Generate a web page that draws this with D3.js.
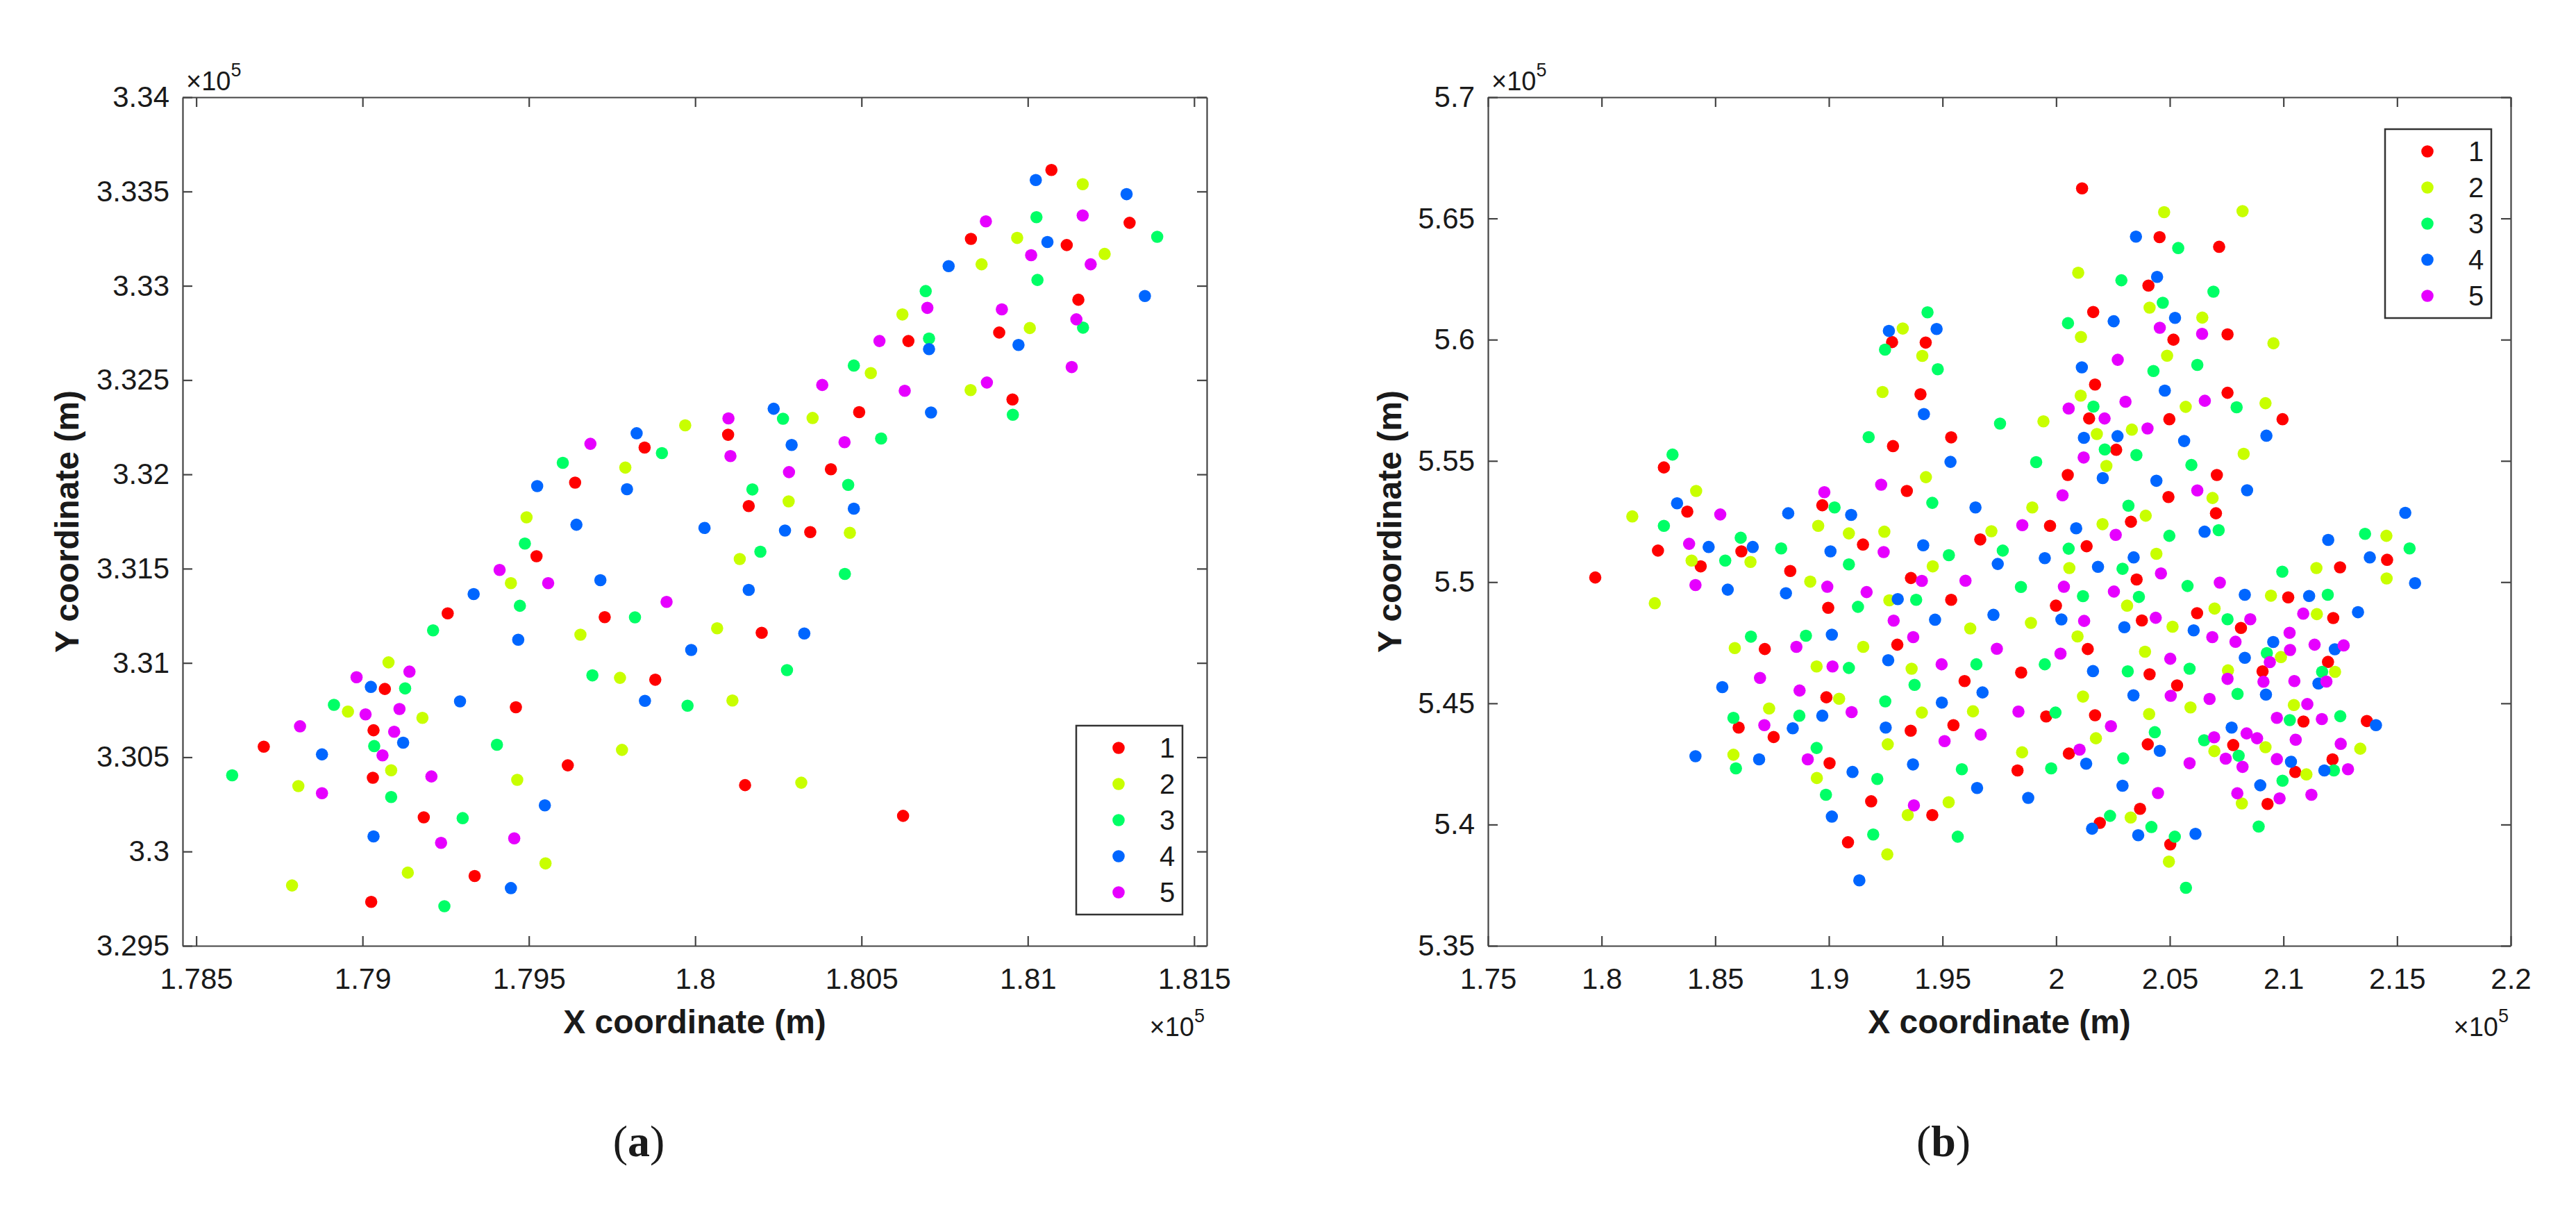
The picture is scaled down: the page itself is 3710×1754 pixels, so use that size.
<!DOCTYPE html>
<html>
<head>
<meta charset="utf-8">
<script src="https://cdn.jsdelivr.net/npm/d3@7"></script>
<style>
body { margin: 0; background: #fff; }
svg text { font-family: "Liberation Sans", Arial, sans-serif; fill: #1a1a1a; }
</style>
</head>
<body>
<svg id="chart" width="3710" height="1754"></svg>
<script>
// values are in units of 1e5 m, as on the axes
var labels = ["1", "2", "3", "4", "5"]
var colors = ["#ff0000", "#c8ff00", "#00ff66", "#0066ff", "#e600ff"]

// ---- panel (a)
var aXTicks = [1.785, 1.79, 1.795, 1.8, 1.805, 1.81, 1.815]
var aYTicks = [3.295, 3.3, 3.305, 3.31, 3.315, 3.32, 3.325, 3.33, 3.335, 3.34]

var a1 = [[1.79848,3.32142],[1.79639,3.31956],[1.79523,3.31566],[1.79256,3.31263],[1.79728,3.31243],[1.7988,3.30911],[1.79067,3.30862],[1.79461,3.30765],[1.79033,3.30643],[1.78703,3.30556],[1.79617,3.30457],[1.79031,3.30391],[1.79184,3.30181],[1.79337,3.2987],[1.79026,3.29733],
  [1.81071,3.33614],[1.81306,3.33334],[1.80829,3.33249],[1.81117,3.33216],[1.81152,3.32926],[1.80914,3.32752],[1.80641,3.32707],[1.80954,3.32397],[1.80493,3.3233],[1.80099,3.3221],[1.80408,3.32027],[1.80161,3.31832],[1.80346,3.31694],
  [1.802,3.3116],[1.8015,3.30352],[1.80625,3.30189]]
var a2 = [[1.7997,3.3226],[1.7979,3.32036],[1.79493,3.31772],[1.79446,3.31423],[1.79655,3.3115],[1.79078,3.31003],[1.79774,3.30921],[1.78956,3.30742],[1.7918,3.30709],[1.7978,3.30539],[1.79086,3.30431],[1.79465,3.3038],[1.78807,3.30347],[1.7955,3.29937],[1.79136,3.29888],[1.78788,3.2982],
  [1.81165,3.33539],[1.80968,3.33254],[1.81231,3.33169],[1.80861,3.33114],[1.80623,3.32848],[1.81006,3.32776],[1.80528,3.32537],[1.80828,3.32447],[1.80353,3.32299],[1.80281,3.31857],[1.80465,3.3169],
  [1.80134,3.31551],[1.80066,3.31184],[1.80112,3.30801],[1.80319,3.30365]]
var a3 = [[1.799,3.32113],[1.79602,3.32061],[1.79488,3.31633],[1.79473,3.31303],[1.79819,3.31242],[1.79212,3.31173],[1.79691,3.30934],[1.79128,3.30865],[1.79977,3.30773],[1.78914,3.30778],[1.79035,3.30559],[1.79404,3.30566],[1.78608,3.30404],[1.79086,3.30289],[1.79301,3.30177],[1.79246,3.2971],
  [1.81026,3.33364],[1.81389,3.3326],[1.81029,3.33031],[1.80693,3.32972],[1.81166,3.32778],[1.80703,3.3272],[1.80477,3.32577],[1.80955,3.32316],[1.80264,3.32295],[1.80559,3.3219],[1.8046,3.31944],[1.80172,3.3192],[1.80196,3.3159],
  [1.8045,3.31472],[1.80276,3.30962]]
var a4 = [[1.79824,3.32218],[1.79525,3.31938],[1.79795,3.31921],[1.79643,3.31733],[1.79715,3.31439],[1.79334,3.31365],[1.79468,3.31123],[1.79988,3.31069],[1.79025,3.30873],[1.79293,3.30796],[1.79849,3.30799],[1.79122,3.30577],[1.78878,3.30515],[1.79548,3.30245],[1.79033,3.3008],[1.79446,3.29806],
  [1.81024,3.33561],[1.81297,3.33486],[1.81059,3.33232],[1.80762,3.33104],[1.81352,3.32946],[1.80703,3.32664],[1.80972,3.32686],[1.80236,3.32348],[1.80709,3.32328],[1.8029,3.32156],[1.80477,3.31818],[1.80028,3.31716],[1.8027,3.31702],
  [1.80161,3.31387],[1.80328,3.31156]]
var a5 = [[1.79685,3.32162],[1.79412,3.31493],[1.79558,3.31423],[1.79914,3.31324],[1.79141,3.30954],[1.78982,3.30924],[1.79009,3.30727],[1.79111,3.30756],[1.78812,3.30664],[1.79095,3.30635],[1.7906,3.3051],[1.79207,3.30398],[1.78878,3.30309],[1.79236,3.30046],[1.79456,3.3007],
  [1.80874,3.33342],[1.81165,3.33373],[1.8101,3.33162],[1.81189,3.33114],[1.80698,3.32883],[1.80922,3.32875],[1.81146,3.32822],[1.80554,3.32707],[1.81132,3.32569],[1.80382,3.32474],[1.8063,3.32443],[1.80877,3.32487],[1.801,3.32297],[1.80106,3.32097],[1.80449,3.32171],[1.80282,3.32012]]

// ---- panel (b)
var bXTicks = [1.75, 1.8, 1.85, 1.9, 1.95, 2, 2.05, 2.1, 2.15, 2.2]
var bYTicks = [5.35, 5.4, 5.45, 5.5, 5.55, 5.6, 5.65, 5.7]

var b1 = [[1.8274,5.5473],[1.8377,5.5291],[1.8971,5.5317],
  [2.0114,5.6624],[2.0455,5.6423],[2.0406,5.6223],[2.0163,5.6114],[2.0516,5.6],[2.0171,5.5815],[2.0145,5.5675],[2.0498,5.5672],[2.0264,5.5546],[2.0051,5.5442],[2.0494,5.5351],[1.9278,5.599],[1.9426,5.5988],[1.9403,5.5775],[1.9282,5.5561],[1.9538,5.5597],[1.9343,5.5376],
  [2.0717,5.6383],[2.0754,5.6022],[2.0754,5.5781],[2.0996,5.5672],[2.0707,5.5442],[2.0703,5.5284],
  [1.8248,5.513],[1.8615,5.5127],[1.8436,5.5065],[1.883,5.5046],[1.7972,5.5019],[1.8997,5.4894],[1.8718,5.4724],[1.8989,5.4525],[1.8603,5.44],[1.8757,5.4361],[1.9003,5.4253],
  [1.915,5.5155],[1.9666,5.5176],[1.9973,5.5232],[2.0329,5.5249],[2.0134,5.5148],[2.0354,5.5011],[1.9361,5.5017],[1.9538,5.4927],[1.9999,5.4903],[2.0377,5.4842],[1.9301,5.4742],[1.9846,5.4627],[2.0139,5.4724],[2.0411,5.462],[1.9597,5.4592],[2.0532,5.4574],[1.9956,5.4446],[2.0171,5.4451],[1.9548,5.441],[1.936,5.4387],[2.0403,5.4331],[2.0056,5.4293],[1.983,5.4223],[1.9186,5.4096],[2.0369,5.4065],[1.9455,5.4039],[2.0192,5.4007],[1.9084,5.3927],[2.0502,5.3918],
  [2.1456,5.5092],[2.1249,5.5061],[2.1021,5.4937],[2.062,5.4872],[2.0813,5.4811],[2.1219,5.4852],[2.1196,5.4671],[2.0908,5.4632],[2.1088,5.4425],[2.1367,5.4427],[2.0779,5.4328],[2.1216,5.4269],[2.1052,5.4217],[2.093,5.4085]]
var b2 = [[1.8416,5.5376],[1.8135,5.5271],
  [2.0475,5.6526],[2.0097,5.6276],[2.0411,5.6132],[2.0109,5.6011],[2.0488,5.5934],[2.0108,5.5769],[2.0179,5.5611],[2.0333,5.5629],[2.0221,5.5479],[2.0394,5.5274],[1.9895,5.5308],[1.9944,5.5663],[1.9325,5.6046],[1.9411,5.5933],[1.9236,5.5784],[1.9427,5.5433],
  [2.082,5.653],[2.0643,5.6091],[2.0956,5.5985],[2.057,5.5723],[2.0921,5.5738],[2.0825,5.5529],[2.0688,5.5347],
  [1.8953,5.5232],[1.8396,5.5089],[1.8655,5.5083],[1.8918,5.5002],[1.8234,5.4913],[1.8586,5.4728],[1.8946,5.4652],[1.8737,5.4479],[1.858,5.4288],[1.8947,5.4192],
  [1.9088,5.5201],[1.9244,5.5208],[1.9457,5.5065],[1.9715,5.521],[2.0204,5.5239],[2.0058,5.5058],[2.0441,5.5117],[1.9266,5.4925],[1.9622,5.4809],[1.9889,5.4832],[2.0312,5.4903],[2.0512,5.4816],[1.9151,5.4733],[1.9364,5.4643],[2.0094,5.4776],[2.0391,5.4713],[2.0118,5.4528],[1.9045,5.4519],[1.9409,5.4462],[1.9634,5.4467],[2.0409,5.4456],[1.9259,5.4331],[2.0175,5.4356],[1.985,5.4298],[1.9527,5.4092],[1.9347,5.4039],[2.0328,5.4029],[1.9257,5.3877],[2.0496,5.3847],
  [2.1453,5.5191],[2.1145,5.5058],[2.1454,5.5015],[2.0945,5.4944],[2.0697,5.4891],[2.1147,5.4868],[2.0989,5.4691],[2.0756,5.4636],[2.1227,5.463],[2.0591,5.4483],[2.1046,5.4493],[2.0696,5.4303],[2.0921,5.4319],[2.1338,5.4313],[2.1101,5.4207],[2.0817,5.4087]]
var b3 = [[1.8312,5.5526],
  [2.0537,5.6378],[2.0287,5.6245],[2.0469,5.6152],[2.0052,5.6068],[2.0428,5.5871],[2.0164,5.5724],[2.0214,5.5547],[2.0353,5.5524],[2.0318,5.5315],[1.9912,5.5495],[1.9753,5.5654],[1.9434,5.6113],[1.9247,5.5959],[1.9479,5.5878],[1.9175,5.5598],[1.9455,5.5327],[1.9025,5.5308],
  [2.0692,5.6198],[2.0621,5.5896],[2.0794,5.5721],[2.0595,5.5483],
  [1.8274,5.5232],[1.8612,5.5183],[1.879,5.5139],[1.8544,5.5089],[1.8657,5.4775],[1.8899,5.4779],[1.858,5.444],[1.887,5.4449],[1.8946,5.4316],[1.8591,5.4232],[1.8987,5.4123],
  [2.0498,5.5191],[1.9088,5.5073],[1.9528,5.5111],[1.9765,5.513],[2.0055,5.5138],[2.0292,5.5055],[1.9128,5.4898],[1.9384,5.4927],[1.9845,5.498],[2.0118,5.4942],[2.0364,5.4939],[1.9088,5.4646],[1.9649,5.4661],[1.995,5.4661],[2.0315,5.4632],[1.9377,5.4576],[1.9248,5.4508],[1.9997,5.4462],[2.0434,5.4381],[2.0295,5.4273],[1.9585,5.4228],[1.9978,5.4232],[1.9213,5.4188],[2.0237,5.4036],[2.0419,5.399],[1.9195,5.3959],[1.9567,5.395],[2.0522,5.395],
  [2.0715,5.5214],[2.1359,5.5199],[2.1555,5.5139],[2.0995,5.5043],[2.0578,5.4984],[2.1195,5.4948],[2.0754,5.4847],[2.0927,5.4707],[2.0587,5.4643],[2.117,5.463],[2.0798,5.4539],[2.1028,5.4431],[2.125,5.4447],[2.0651,5.4348],[2.0803,5.4284],[2.1222,5.4223],[2.0996,5.4181],[2.0891,5.3992],[2.0571,5.3739]]
var b4 = [[1.8332,5.5325],[1.8821,5.5284],
  [2.0351,5.6425],[2.0444,5.6259],[2.0253,5.6076],[2.0523,5.609],[2.0113,5.5886],[2.0478,5.579],[2.0122,5.5595],[2.027,5.5602],[2.0205,5.5429],[2.0441,5.5418],[1.9264,5.6036],[1.9474,5.6044],[1.9418,5.5693],[1.9535,5.5496],[1.9645,5.5308],[1.9098,5.5277],
  [2.0563,5.5582],[2.0925,5.5604],[2.084,5.5379],[2.1536,5.5286],
  [1.8471,5.5145],[1.8665,5.5145],[1.9007,5.5127],[1.8555,5.4969],[1.8811,5.4954],[1.9013,5.4783],[1.8531,5.4567],[1.8971,5.4449],[1.8841,5.4397],[1.8413,5.4282],[1.8693,5.4269],[1.9013,5.4033],
  [1.9415,5.5152],[2.0088,5.5222],[1.9743,5.5075],[1.995,5.5099],[2.0184,5.5063],[2.0341,5.5102],[1.9303,5.493],[1.9467,5.4845],[1.9724,5.4865],[2.0023,5.4846],[2.03,5.4814],[1.9261,5.4678],[2.0162,5.4633],[1.9676,5.4545],[2.034,5.4533],[1.9497,5.4503],[1.925,5.44],[2.0456,5.4304],[1.9104,5.4217],[1.937,5.4248],[2.0132,5.4251],[1.9652,5.4151],[2.0292,5.416],[1.9877,5.411],[2.0158,5.3983],[2.0361,5.3956],[1.9134,5.377],
  [2.0653,5.5208],[2.1197,5.5174],[2.138,5.5102],[2.1579,5.4996],[2.083,5.4948],[2.1113,5.4943],[2.1328,5.4876],[2.0605,5.4801],[2.0955,5.4753],[2.1226,5.4723],[2.083,5.4688],[2.1154,5.4582],[2.0923,5.4536],[2.1407,5.441],[2.0772,5.44],[2.1033,5.4259],[2.118,5.4223],[2.0898,5.4162],[2.0613,5.3962]]
var b5 = [[1.898,5.5371],[1.8522,5.5279],
  [2.0456,5.6049],[2.0271,5.5917],[2.0305,5.5744],[2.0055,5.5716],[2.0213,5.5675],[2.0402,5.5634],[2.0121,5.5514],[2.0028,5.5358],[1.923,5.5402],
  [2.0642,5.6024],[2.0654,5.5748],[2.0621,5.5378],
  [1.8385,5.5158],[1.8413,5.4988],[1.8993,5.4981],[1.8857,5.4733],[1.9016,5.4652],[1.8697,5.4605],[1.8871,5.4553],[1.8716,5.441],[1.8907,5.4269],
  [1.9241,5.5124],[1.9851,5.5235],[2.0262,5.5195],[2.0461,5.5036],[1.9166,5.4959],[1.9409,5.5005],[1.9601,5.5006],[1.9285,5.4841],[2.0034,5.4981],[2.0123,5.484],[2.0254,5.4961],[2.0438,5.4853],[1.9371,5.4773],[1.9496,5.4661],[1.9739,5.4725],[2.0019,5.4705],[2.0502,5.4684],[2.0504,5.4531],[1.91,5.4464],[1.9834,5.4466],[1.9668,5.4371],[1.9509,5.4344],[2.0241,5.4406],[2.0103,5.4309],[2.0448,5.413],[1.9374,5.4079],
  [2.072,5.4998],[2.0854,5.4847],[2.1087,5.487],[2.0687,5.4773],[2.0789,5.4754],[2.1027,5.4791],[2.1137,5.4742],[2.1265,5.4739],[2.1029,5.472],[2.094,5.467],[2.0754,5.4601],[2.0912,5.4589],[2.1048,5.4592],[2.1189,5.459],[2.0675,5.4518],[2.1105,5.4497],[2.0971,5.444],[2.1169,5.4435],[2.0695,5.436],[2.0838,5.4376],[2.0884,5.4356],[2.1054,5.435],[2.0746,5.4272],[2.082,5.4238],[2.1252,5.4333],[2.0971,5.427],[2.0587,5.4253],[2.1284,5.4228],[2.0797,5.4129],[2.0983,5.4108],[2.1123,5.4123]]

var svg = d3.select("#chart")
var g_dotR = 8.8
var g_tick = 14
var g_axisColor = "#444"

function styleAxis(sel) {
	sel.attr("font-size", 42)
		.attr("font-family", "\"Liberation Sans\", Arial, sans-serif")
		.attr("color", g_axisColor)
	sel.selectAll(".domain").attr("stroke-width", 2.2)
	sel.selectAll(".tick line").attr("stroke-width", 2.2)
	sel.selectAll("text").attr("fill", "#1a1a1a")
}

function drawPanel(p) {
	var g = svg.append("g")
	var x = d3.scaleLinear().domain(p.xDomain).range([p.left, p.right])
	var y = d3.scaleLinear().domain(p.yDomain).range([p.bottom, p.top])
	var none = function() { return "" }

	g.append("g").attr("transform", "translate(0," + p.bottom + ")")
		.call(d3.axisBottom(x).tickValues(p.xTicks).tickFormat(d3.format(p.xFmt))
			.tickSize(-g_tick).tickSizeOuter(0).tickPadding(32))
		.call(styleAxis)
	g.append("g").attr("transform", "translate(0," + p.top + ")")
		.call(d3.axisTop(x).tickValues(p.xTicks).tickFormat(none).tickSize(-g_tick).tickSizeOuter(0))
		.call(styleAxis)
	g.append("g").attr("transform", "translate(" + p.left + ",0)")
		.call(d3.axisLeft(y).tickValues(p.yTicks).tickFormat(d3.format(p.yFmt))
			.tickSize(-g_tick).tickSizeOuter(0).tickPadding(19))
		.call(styleAxis)
	g.append("g").attr("transform", "translate(" + p.right + ",0)")
		.call(d3.axisRight(y).tickValues(p.yTicks).tickFormat(none).tickSize(-g_tick).tickSizeOuter(0))
		.call(styleAxis)

	// points, one group per cluster
	p.series.forEach(function(pts, i) {
		g.append("g").selectAll("circle").data(pts).enter()
			.append("circle")
			.attr("cx", function(d) { return x(d[0]) })
			.attr("cy", function(d) { return y(d[1]) })
			.attr("r", g_dotR)
			.attr("fill", colors[i])
	})

	// exponent labels
	var top = g.append("text").attr("x", p.left + 5).attr("y", p.top - 10).attr("font-size", 38)
	top.append("tspan").text("×10")
	top.append("tspan").attr("dy", -20).attr("font-size", 27).text("5")
	var bot = g.append("text").attr("x", p.right - 3).attr("y", p.bottom + 130)
		.attr("font-size", 38).attr("text-anchor", "end")
	bot.append("tspan").text("×10")
	bot.append("tspan").attr("dy", -20).attr("font-size", 27).text("5")

	// axis titles
	g.append("text").attr("x", (p.left + p.right) / 2).attr("y", p.bottom + 126)
		.attr("text-anchor", "middle").attr("font-size", 48).attr("font-weight", "bold")
		.text("X coordinate (m)")
	g.append("text")
		.attr("transform", "translate(" + p.yTitleX + "," + (p.top + p.bottom) / 2 + ") rotate(-90)")
		.attr("text-anchor", "middle").attr("font-size", 48).attr("font-weight", "bold")
		.text("Y coordinate (m)")

	// legend
	var lg = g.append("g").attr("transform", "translate(" + p.legend[0] + "," + p.legend[1] + ")")
	lg.append("rect").attr("width", 153).attr("height", 272)
		.attr("fill", "#fff").attr("stroke", "#333").attr("stroke-width", 2.5)
	labels.forEach(function(lab, i) {
		lg.append("circle").attr("cx", 61).attr("cy", 32 + i * 52).attr("r", g_dotR).attr("fill", colors[i])
		lg.append("text").attr("x", 120).attr("y", 32 + i * 52).attr("dy", "0.35em")
			.attr("font-size", 40).text(lab)
	})

	// caption
	var cap = g.append("text").attr("x", p.caption[0]).attr("y", p.caption[1])
		.attr("text-anchor", "middle").attr("font-size", 64)
		.style("font-family", "\"Liberation Serif\", \"Times New Roman\", serif")
		.attr("fill", "#000")
	cap.append("tspan").text("(")
	cap.append("tspan").attr("font-weight", "bold").text(p.letter)
	cap.append("tspan").text(")")
}

drawPanel({
	left: 263, right: 1738, top: 140, bottom: 1362,
	xDomain: [1.78459, 1.81538], yDomain: [3.295, 3.34],
	xTicks: aXTicks, yTicks: aYTicks, xFmt: ".3~f", yFmt: ".3~f",
	series: [a1, a2, a3, a4, a5],
	yTitleX: 113, legend: [1550, 1045], caption: [920, 1665], letter: "a"
})

drawPanel({
	left: 2143, right: 3616, top: 140, bottom: 1362,
	xDomain: [1.75, 2.2], yDomain: [5.35, 5.7],
	xTicks: bXTicks, yTicks: bYTicks, xFmt: ".2~f", yFmt: ".2~f",
	series: [b1, b2, b3, b4, b5],
	yTitleX: 2018, legend: [3435, 186], caption: [2799, 1665], letter: "b"
})
</script>
</body>
</html>
